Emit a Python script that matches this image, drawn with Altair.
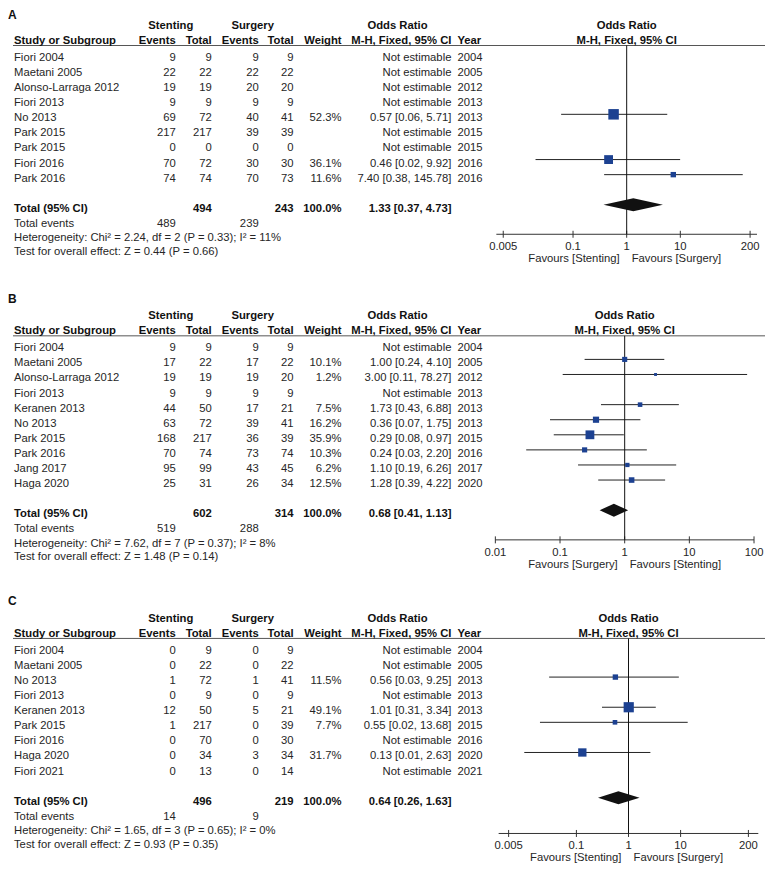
import altair as alt
import pandas as pd

FONT = "Liberation Sans"
FS = 11.3
TXT = "#262626"
BLUE = "#1c4191"

# ---------------- Panel A ----------------
a_study = ["Fiori 2004", "Maetani 2005", "Alonso-Larraga 2012", "Fiori 2013", "No 2013",
           "Park 2015", "Park 2015", "Fiori 2016", "Park 2016"]
a_st_ev = [9, 22, 19, 9, 69, 217, 0, 70, 74]
a_st_tot = [9, 22, 19, 9, 72, 217, 0, 72, 74]
a_su_ev = [9, 22, 20, 9, 40, 39, 0, 30, 70]
a_su_tot = [9, 22, 20, 9, 41, 39, 0, 30, 73]
a_weight = [None, None, None, None, 52.3, None, None, 36.1, 11.6]
a_or = [None, None, None, None, 0.57, None, None, 0.46, 7.40]
a_lo = [None, None, None, None, 0.06, None, None, 0.02, 0.38]
a_hi = [None, None, None, None, 5.71, None, None, 9.92, 145.78]
a_year = [2004, 2005, 2012, 2013, 2013, 2015, 2015, 2016, 2016]
a_total = [1.33, 0.37, 4.73]
a_het = "Heterogeneity: Chi\u00b2 = 2.24, df = 2 (P = 0.33); I\u00b2 = 11%"
a_test = "Test for overall effect: Z = 0.44 (P = 0.66)"
a_ticks = [0.005, 0.1, 1, 10, 200]
a_favours = ["Favours [Stenting]", "Favours [Surgery]"]

# ---------------- Panel B ----------------
b_study = ["Fiori 2004", "Maetani 2005", "Alonso-Larraga 2012", "Fiori 2013", "Keranen 2013",
           "No 2013", "Park 2015", "Park 2016", "Jang 2017", "Haga 2020"]
b_st_ev = [9, 17, 19, 9, 44, 63, 168, 70, 95, 25]
b_st_tot = [9, 22, 19, 9, 50, 72, 217, 74, 99, 31]
b_su_ev = [9, 17, 19, 9, 17, 39, 36, 73, 43, 26]
b_su_tot = [9, 22, 20, 9, 21, 41, 39, 74, 45, 34]
b_weight = [None, 10.1, 1.2, None, 7.5, 16.2, 35.9, 10.3, 6.2, 12.5]
b_or = [None, 1.00, 3.00, None, 1.73, 0.36, 0.29, 0.24, 1.10, 1.28]
b_lo = [None, 0.24, 0.11, None, 0.43, 0.07, 0.08, 0.03, 0.19, 0.39]
b_hi = [None, 4.10, 78.27, None, 6.88, 1.75, 0.97, 2.20, 6.26, 4.22]
b_year = [2004, 2005, 2012, 2013, 2013, 2013, 2015, 2016, 2017, 2020]
b_total = [0.68, 0.41, 1.13]
b_het = "Heterogeneity: Chi\u00b2 = 7.62, df = 7 (P = 0.37); I\u00b2 = 8%"
b_test = "Test for overall effect: Z = 1.48 (P = 0.14)"
b_ticks = [0.01, 0.1, 1, 10, 100]
b_favours = ["Favours [Surgery]", "Favours [Stenting]"]

# ---------------- Panel C ----------------
c_study = ["Fiori 2004", "Maetani 2005", "No 2013", "Fiori 2013", "Keranen 2013",
           "Park 2015", "Fiori 2016", "Haga 2020", "Fiori 2021"]
c_st_ev = [0, 0, 1, 0, 12, 1, 0, 0, 0]
c_st_tot = [9, 22, 72, 9, 50, 217, 70, 34, 13]
c_su_ev = [0, 0, 1, 0, 5, 0, 0, 3, 0]
c_su_tot = [9, 22, 41, 9, 21, 39, 30, 34, 14]
c_weight = [None, None, 11.5, None, 49.1, 7.7, None, 31.7, None]
c_or = [None, None, 0.56, None, 1.01, 0.55, None, 0.13, None]
c_lo = [None, None, 0.03, None, 0.31, 0.02, None, 0.01, None]
c_hi = [None, None, 9.25, None, 3.34, 13.68, None, 2.63, None]
c_year = [2004, 2005, 2013, 2013, 2013, 2015, 2016, 2020, 2021]
c_total = [0.64, 0.26, 1.63]
c_het = "Heterogeneity: Chi\u00b2 = 1.65, df = 3 (P = 0.65); I\u00b2 = 0%"
c_test = "Test for overall effect: Z = 0.93 (P = 0.35)"
c_ticks = [0.005, 0.1, 1, 10, 200]
c_favours = ["Favours [Stenting]", "Favours [Surgery]"]

# ---------------- layout (styles only) ----------------
W = 758
COL = {
    "label": (0, "left"),
    "study": (6, "left"),
    "se": (168, "right"),
    "st": (204, "right"),
    "ue": (251, "right"),
    "ut": (286, "right"),
    "w": (334, "right"),
    "ortxt": (444, "right"),
    "year": (450, "left"),
    "hsten": (163, "center"),
    "hsurg": (245, "center"),
    "hor": (390, "center"),
}
R_H1, R_H2, R_LINE = -2.12, -1.13, -0.563
STEP = 15.1

GEOM = {
    "A": dict(height=226, y0=45.5, label_r=-2.85, xdom=[0.00372, 269], xrange=[489, 750]),
    "B": dict(height=306, y0=110.2, label_r=-3.3, xdom=[0.01, 100], xrange=[488, 747]),
    "C": dict(height=294, y0=107.2, label_r=-3.3, xdom=[0.00322, 310], xrange=[491.3, 751.3]),
}


def panel(letter, study, st_ev, st_tot, su_ev, su_tot, weight, orv, lo, hi, year,
          total, het, test, ticks, favours):
    g = GEOM[letter]
    H = g["height"]
    n = len(study)
    yscale = alt.Scale(domain=[0, 10], range=[g["y0"], g["y0"] + 10 * STEP], nice=False, zero=False)
    xscale = alt.Scale(type="log", domain=g["xdom"], range=g["xrange"], nice=False)

    cells = []

    def add(col, text, row, bold=False):
        cells.append(dict(col=col, text=str(text), row=row, bold=bold))

    add("label", letter, g["label_r"], True)
    add("hsten", "Stenting", R_H1, True)
    add("hsurg", "Surgery", R_H1, True)
    add("hor", "Odds Ratio", R_H1, True)
    for col, t in [("study", "Study or Subgroup"), ("se", "Events"), ("st", "Total"),
                   ("ue", "Events"), ("ut", "Total"), ("w", "Weight"),
                   ("ortxt", "M-H, Fixed, 95% CI"), ("year", "Year")]:
        add(col, t, R_H2, True)
    for i in range(n):
        add("study", study[i], i)
        add("se", st_ev[i], i)
        add("st", st_tot[i], i)
        add("ue", su_ev[i], i)
        add("ut", su_tot[i], i)
        if weight[i] is not None:
            add("w", f"{weight[i]:.1f}%", i)
        if orv[i] is not None:
            add("ortxt", f"{orv[i]:.2f} [{lo[i]:.2f}, {hi[i]:.2f}]", i)
        else:
            add("ortxt", "Not estimable", i)
        add("year", year[i], i)
    add("study", "Total (95% CI)", n + 1, True)
    add("st", sum(st_tot), n + 1, True)
    add("ut", sum(su_tot), n + 1, True)
    add("w", "100.0%", n + 1, True)
    add("ortxt", f"{total[0]:.2f} [{total[1]:.2f}, {total[2]:.2f}]", n + 1, True)
    add("study", "Total events", n + 2)
    add("se", sum(st_ev), n + 2)
    add("ue", sum(su_ev), n + 2)
    add("study", het, n + 2.95)
    add("study", test, n + 3.85)

    df = pd.DataFrame(cells)
    Y = alt.Y("row:Q", scale=yscale, axis=None)

    def X(field):
        return alt.X(field, type="quantitative", scale=xscale, axis=None)

    layers = []
    # header underline
    layers.append(
        alt.Chart(pd.DataFrame({"row": [R_LINE]})).mark_rule(color="#555555", strokeWidth=1)
        .encode(x=alt.value(5), x2=alt.value(W), y=Y)
    )
    # table text
    for (col, bold), sub in df.groupby(["col", "bold"]):
        x, align = COL[col]
        layers.append(
            alt.Chart(sub).mark_text(
                align=align, baseline="middle", dy=4, font=FONT,
                fontSize=12 if col == "label" else FS,
                fontWeight="bold" if bold else "normal",
                color="#111111" if bold else TXT,
            ).encode(x=alt.value(x), y=Y, text="text:N")
        )

    # forest data
    fd = pd.DataFrame({"row": list(range(n)), "est": orv, "lo": lo, "hi": hi, "w": weight})
    fd = fd.dropna()

    # axis drawn from the x scale: domain line, ticks, labels
    layers.append(
        alt.Chart(pd.DataFrame({"a": [g["xdom"][0]], "b": [g["xdom"][1]]}))
        .mark_rule(color="#333333", strokeWidth=1)
        .encode(x=X("a"), x2="b:Q", y=alt.value(H))
    )
    tdf = pd.DataFrame({"t": ticks})
    layers.append(
        alt.Chart(tdf).mark_rule(color="#333333", strokeWidth=1)
        .encode(x=X("t"), y=alt.value(H - 3.5), y2=alt.value(H + 3.5))
    )
    layers.append(
        alt.Chart(tdf).mark_text(align="center", baseline="middle", font=FONT, fontSize=FS, color=TXT)
        .encode(x=X("t"), y=alt.value(H + 13), text=alt.Text("t:Q", format="~g"))
    )

    # CI lines
    layers.append(
        alt.Chart(fd).mark_rule(color="#222222", strokeWidth=1)
        .encode(x=X("lo"), x2="hi:Q", y=Y)
    )
    # line of no effect
    layers.append(
        alt.Chart(pd.DataFrame({"v": [1], "row": [R_LINE]})).mark_rule(color="#111111", strokeWidth=1)
        .encode(x=X("v"), y=Y, y2=alt.value(H))
    )
    # squares
    layers.append(
        alt.Chart(fd).mark_square(filled=True, opacity=1, color=BLUE, strokeWidth=0)
        .encode(x=X("est"), y=Y,
                size=alt.Size("w:Q", scale=alt.Scale(domain=[0, 100], range=[6, 206]), legend=None))
    )
    # diamond
    tr = n + 1
    dd = pd.DataFrame({"x": [total[1], total[0], total[2]],
                       "y": [tr, tr - 0.43, tr], "y2": [tr, tr + 0.43, tr]})
    layers.append(
        alt.Chart(dd).mark_area(color="#111111", opacity=1, orient="vertical")
        .encode(x=X("x"), y=alt.Y("y:Q", scale=yscale, axis=None), y2="y2:Q")
    )
    # forest header
    layers.append(
        alt.Chart(pd.DataFrame({"text": ["Odds Ratio", "M-H, Fixed, 95% CI"], "row": [R_H1, R_H2],
                                "v": [1, 1]}))
        .mark_text(align="center", baseline="middle", dy=4, font=FONT, fontSize=FS,
                   fontWeight="bold", color="#111111")
        .encode(x=X("v"), y=Y, text="text:N")
    )
    # favours labels
    layers.append(
        alt.Chart(pd.DataFrame({"text": [favours[0]], "v": [1]}))
        .mark_text(align="right", baseline="middle", dx=-7, font=FONT, fontSize=FS, color=TXT)
        .encode(x=X("v"), y=alt.value(H + 25), text="text:N")
    )
    layers.append(
        alt.Chart(pd.DataFrame({"text": [favours[1]], "v": [1]}))
        .mark_text(align="left", baseline="middle", dx=5, font=FONT, fontSize=FS, color=TXT)
        .encode(x=X("v"), y=alt.value(H + 25), text="text:N")
    )

    return alt.layer(*layers).properties(width=W, height=H)


pa = panel("A", a_study, a_st_ev, a_st_tot, a_su_ev, a_su_tot, a_weight, a_or, a_lo, a_hi, a_year,
           a_total, a_het, a_test, a_ticks, a_favours)
pb = panel("B", b_study, b_st_ev, b_st_tot, b_su_ev, b_su_tot, b_weight, b_or, b_lo, b_hi, b_year,
           b_total, b_het, b_test, b_ticks, b_favours)
pc = panel("C", c_study, c_st_ev, c_st_tot, c_su_ev, c_su_tot, c_weight, c_or, c_lo, c_hi, c_year,
           c_total, c_het, c_test, c_ticks, c_favours)

chart = (
    alt.vconcat(pa, pb, pc, spacing=0, bounds="flush")
    .properties(padding=0)
    .configure_view(stroke=None)
)

chart.save("out.html", embed_options={"renderer": "svg", "actions": False})
